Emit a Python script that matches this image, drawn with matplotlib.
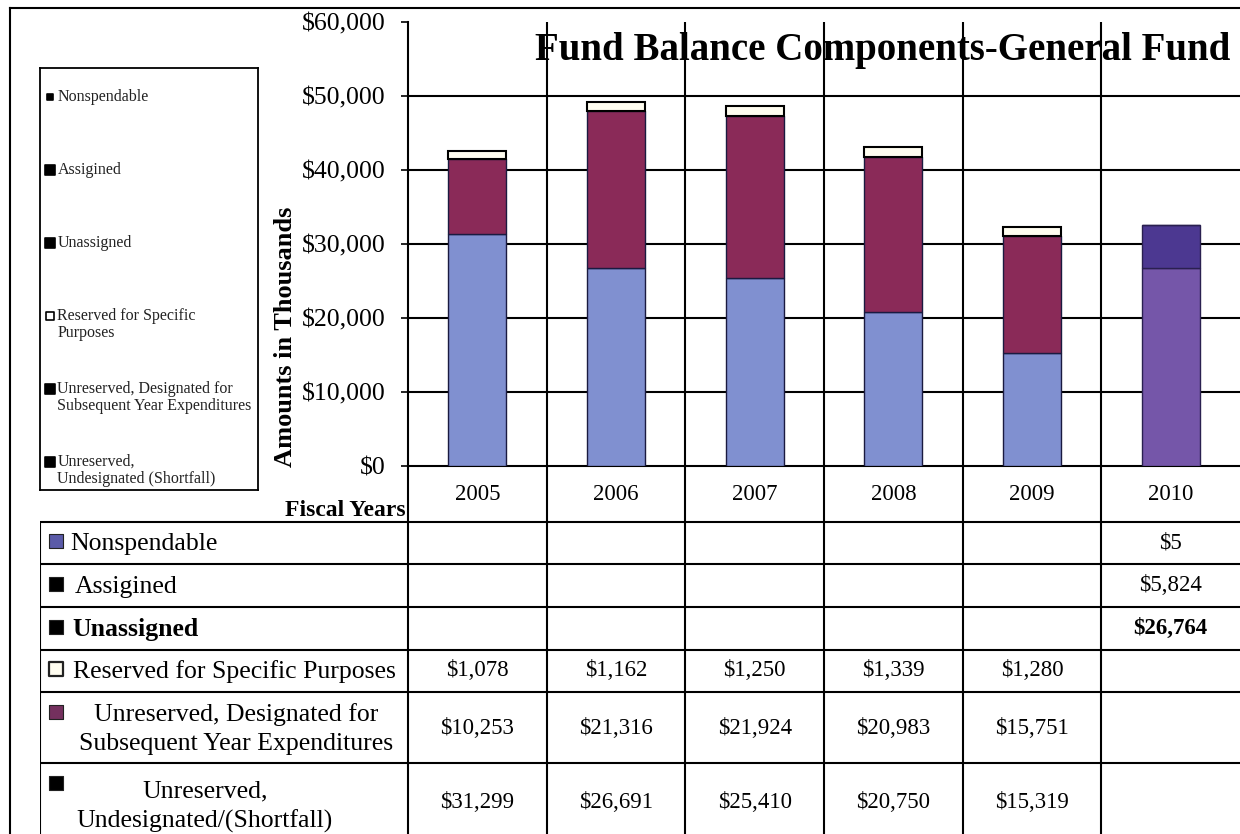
import matplotlib
matplotlib.use('Agg')
import matplotlib.pyplot as plt
import numpy as np

plt.rcParams['font.family'] = ['Liberation Serif', 'DejaVu Serif']

# ---------------- data ----------------
years = ['2005', '2006', '2007', '2008', '2009', '2010']
nonspendable = [np.nan, np.nan, np.nan, np.nan, np.nan, 5]
assigned = [np.nan, np.nan, np.nan, np.nan, np.nan, 5824]
unassigned = [np.nan, np.nan, np.nan, np.nan, np.nan, 26764]
reserved = [1078, 1162, 1250, 1339, 1280, np.nan]
designated = [10253, 21316, 21924, 20983, 15751, np.nan]
undesignated = [31299, 26691, 25410, 20750, 15319, np.nan]

row_labels = ['Nonspendable', 'Assigined', 'Unassigned',
              'Reserved for Specific Purposes',
              'Unreserved, Designated for\nSubsequent Year Expenditures',
              'Unreserved,\nUndesignated/(Shortfall)']
legend_labels = ['Nonspendable', 'Assigined', 'Unassigned',
                 'Reserved for Specific\nPurposes',
                 'Unreserved, Designated for\nSubsequent Year Expenditures',
                 'Unreserved,\nUndesignated (Shortfall)']
y_ticks = [0, 10000, 20000, 30000, 40000, 50000, 60000]
title = 'Fund Balance Components-General Fund'
y_label = 'Amounts in Thousands'
x_label = 'Fiscal Years'

# ---------------- styles ----------------
c_undes = '#8090d0'
c_des = '#8a2a58'
c_res = '#fffdf0'
c_unas = '#7556a9'
c_asg = '#4c3891'
c_non = '#5a5aa8'

W, H = 1240, 834
def fx(p): return p / W
def fy(p): return 1 - p / H

fig = plt.figure(figsize=(W / 100, H / 100), dpi=100)
fig.patch.set_facecolor('white')

# outer frame (left and top lines)
fr = fig.add_axes([fx(10), 0, 1 - fx(10), fy(8)])
fr.set_facecolor('none')
fr.set_xticks([]); fr.set_yticks([])
for s in ['right', 'bottom']:
    fr.spines[s].set_visible(False)
for s in ['left', 'top']:
    fr.spines[s].set_linewidth(1.5)
fr.set_zorder(0)

# ---------------- main chart ----------------
ax = fig.add_axes([fx(408), fy(466), 1 - fx(408), fy(22) - fy(466)])
ax.set_facecolor('none')
ax.set_xlim(-0.5, 5.5)
ax.set_ylim(0, 60000)
x = np.arange(len(years))

stack = [
    (undesignated, c_undes, '#1a1a40', 1.0),
    (designated, c_des, '#1a1a40', 1.0),
    (reserved, c_res, 'black', 1.5),
    (unassigned, c_unas, '#2a2050', 1.0),
    (assigned, c_asg, '#2a2050', 1.0),
    (nonspendable, c_non, '#2a2050', 1.0),
]
bottom = np.zeros(len(years))
for vals, col, ec, lw in stack:
    v = np.nan_to_num(np.array(vals, dtype=float))
    m = v > 0
    ax.bar(x[m], v[m], 0.42, bottom=bottom[m], color=col, edgecolor=ec,
           linewidth=lw, zorder=3)
    bottom += v

ax.set_yticks(y_ticks)
ax.yaxis.set_major_formatter(matplotlib.ticker.FuncFormatter(lambda v, p: f'${v:,.0f}'))
ax.tick_params(axis='y', direction='out', length=5, width=1.2, pad=11,
               labelsize=18.5, colors='black')
ax.set_xticks([])
ax.set_xticks(np.arange(0.5, 5.5, 1), minor=True)
ax.tick_params(axis='x', which='minor', length=0)
ax.grid(axis='y', which='major', color='black', linewidth=1.5, zorder=1)
ax.get_ygridlines()[-1].set_visible(False)
ax.get_ygridlines()[0].set_visible(False)
ax.grid(axis='x', which='minor', color='black', linewidth=1.5, zorder=1)
for s in ['top', 'right']:
    ax.spines[s].set_visible(False)
ax.spines['left'].set_linewidth(1.5)
ax.spines['bottom'].set_linewidth(1.5)

ax.set_ylabel(y_label, fontsize=19, fontweight='bold')
ax.yaxis.set_label_coords((297 - 408) / 832, (466 - 337) / 444)
ax.text(0.57, 0.935, title, transform=ax.transAxes, ha='center', va='center',
        fontsize=28, fontweight='bold', zorder=5)

# ---------------- data table ----------------
row_h = [56, 42, 43, 43, 42, 71, 71]
bounds = np.concatenate([[0], np.cumsum(row_h)])
col_w = (1240 - 408) / 6
x_left = -0.5 - (408 - 40) / col_w

tax = fig.add_axes([fx(40), 0, 1 - fx(40), fy(466)])
tax.set_xlim(x_left, 5.5)
tax.set_ylim(bounds[-1], 0)
tax.axis('off')

lw_t = 1.5
tax.hlines(bounds[1:-1], x_left, 5.5, color='black', linewidth=lw_t)
tax.vlines(np.arange(-0.5, 5.0, 1), 0, bounds[-1], color='black', linewidth=lw_t)
tax.vlines([x_left], bounds[1], bounds[-1], color='black', linewidth=lw_t)

for j, yr in enumerate(years):
    tax.text(j, 29, yr, ha='center', va='center', fontsize=16.5)
tax.text(-0.52, 44, x_label, ha='right', va='center', fontsize=17, fontweight='bold')

table_rows = [nonspendable, assigned, unassigned, reserved, designated, undesignated]
marker_cols = [c_non, 'black', 'black', '#fffdf0', '#74305e', 'black']
bold_rows = [False, False, True, False, False, False]
text_x = [30, 35, 32, 33, 0, 0]
ml_center = [0, 0, 0, 0, 196, 165]
ml_dy = [0, 0, 0, 0, 1.5, 8]
for i, (lab, vals) in enumerate(zip(row_labels, table_rows)):
    top, bot = bounds[i + 1], bounds[i + 2]
    yc = (top + bot) / 2
    fw = 'bold' if bold_rows[i] else 'normal'
    for j, v in enumerate(vals):
        if not np.isnan(v):
            tax.text(j, yc + ml_dy[i] * 0.5, f'${v:,.0f}', ha='center', va='center',
                     fontsize=16.5, fontweight=fw)
    if '\n' in lab:
        tax.scatter([x_left + 16 / col_w], [top + 20], s=90, marker='s',
                    color=marker_cols[i], edgecolor='#222222', linewidth=0.8, zorder=4)
        tax.text(x_left + ml_center[i] / col_w, yc + ml_dy[i], lab, ha='center',
                 va='center', fontsize=18.5, linespacing=1.4)
    else:
        tax.scatter([x_left + 16 / col_w], [yc - 2], s=90, marker='s',
                    color=marker_cols[i], edgecolor='#222222',
                    linewidth=1.6 if i == 3 else 0.8, zorder=4)
        tax.text(x_left + text_x[i] / col_w, yc + 1, lab, ha='left', va='center',
                 fontsize=18.5, fontweight=fw)

# ---------------- legend box ----------------
lax = fig.add_axes([fx(40), fy(490), fx(258) - fx(40), fy(68) - fy(490)])
lax.set_xlim(0, 1)
step = 73.0
lax.set_ylim((490 - 97) / step, -(97 - 68) / step)
lax.set_xticks([]); lax.set_yticks([])
for s in lax.spines.values():
    s.set_linewidth(1.3)
leg_marker_cols = ['black', 'black', 'black', 'white', 'black', 'black']
leg_sizes = [22, 45, 45, 40, 45, 45]
line_px = 16.5
for i, lab in enumerate(legend_labels):
    nl = lab.count('\n')
    lax.scatter([0.045], [i], s=leg_sizes[i], marker='s', color=leg_marker_cols[i],
                edgecolor='black', linewidth=1.2, zorder=4)
    lax.text(0.08, i + nl * line_px / 2 / step, lab, ha='left', va='center',
             fontsize=11.5, color='#222222', linespacing=1.05)

fig.savefig('out.png', dpi=100)
